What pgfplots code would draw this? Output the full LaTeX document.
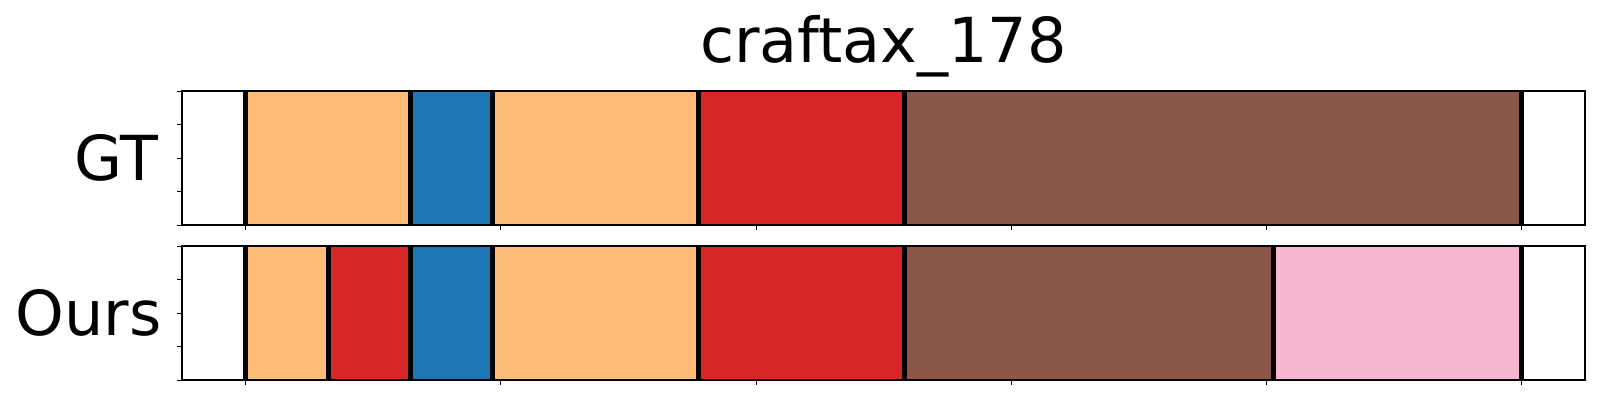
\documentclass[border=0pt]{standalone}
\usepackage{pgfplots}
\pgfplotsset{compat=1.18}
\usepackage{fontspec}
\setmainfont{DejaVu Sans}
\definecolor{tOrL}{HTML}{FFBB78}
\definecolor{tBlue}{HTML}{1F77B4}
\definecolor{tRed}{HTML}{D62728}
\definecolor{tBrown}{HTML}{8C564B}
\definecolor{tPinkL}{HTML}{F7B6D2}
\pgfplotsset{
  segax/.style={
    scale only axis, width=701.5pt, height=67pt,
    xmin=-12.5, xmax=262.5, ymin=0, ymax=1,
    xtick={0,50,100,150,200,250}, xticklabels={},
    ytick={0,0.25,0.5,0.75,1}, yticklabels={},
    xtick pos=bottom, ytick pos=left, tick align=outside,
    major tick length=2.5pt,
    every tick/.style={black, line width=0.4pt},
    axis line style={line width=0.55pt},
    axis on top, clip=true,
  },
  seg/.style={draw=none, fill=#1, forget plot},
  sep/.style={ycomb, black, line width=2.4pt, mark=none, forget plot},
}
\begin{document}
\begin{tikzpicture}
\useasboundingbox (0,0) rectangle (800pt,200pt);
\begin{axis}[segax, at={(91pt,87.5pt)}, anchor=south west]
\addplot[seg=tOrL] coordinates {(0,0)(0,1)(32.3,1)(32.3,0)} -- cycle;
\addplot[seg=tBlue] coordinates {(32.3,0)(32.3,1)(48.4,1)(48.4,0)} -- cycle;
\addplot[seg=tOrL] coordinates {(48.4,0)(48.4,1)(88.8,1)(88.8,0)} -- cycle;
\addplot[seg=tRed] coordinates {(88.8,0)(88.8,1)(129.1,1)(129.1,0)} -- cycle;
\addplot[seg=tBrown] coordinates {(129.1,0)(129.1,1)(250,1)(250,0)} -- cycle;
\addplot[sep] coordinates {(0,1)(32.3,1)(48.4,1)(88.8,1)(129.1,1)(250,1)};
\end{axis}
\begin{axis}[segax, at={(91pt,10pt)}, anchor=south west]
\addplot[seg=tOrL] coordinates {(0,0)(0,1)(16.2,1)(16.2,0)} -- cycle;
\addplot[seg=tRed] coordinates {(16.2,0)(16.2,1)(32.3,1)(32.3,0)} -- cycle;
\addplot[seg=tBlue] coordinates {(32.3,0)(32.3,1)(48.4,1)(48.4,0)} -- cycle;
\addplot[seg=tOrL] coordinates {(48.4,0)(48.4,1)(88.8,1)(88.8,0)} -- cycle;
\addplot[seg=tRed] coordinates {(88.8,0)(88.8,1)(129.1,1)(129.1,0)} -- cycle;
\addplot[seg=tBrown] coordinates {(129.1,0)(129.1,1)(201.5,1)(201.5,0)} -- cycle;
\addplot[seg=tPinkL] coordinates {(201.5,0)(201.5,1)(250,1)(250,0)} -- cycle;
\addplot[sep] coordinates {(0,1)(16.2,1)(32.3,1)(48.4,1)(88.8,1)(129.1,1)(201.5,1)(250,1)};
\end{axis}
\node[anchor=base, inner sep=0pt, font=\fontsize{31}{37}\selectfont] at (441.75pt,168.5pt) {craftax\_178};
\node[anchor=east, inner sep=0pt, font=\fontsize{31}{37}\selectfont] at (79.5pt,121pt) {GT};
\node[anchor=east, inner sep=0pt, font=\fontsize{31}{37}\selectfont] at (81pt,43.5pt) {Ours};
\end{tikzpicture}
\end{document}
